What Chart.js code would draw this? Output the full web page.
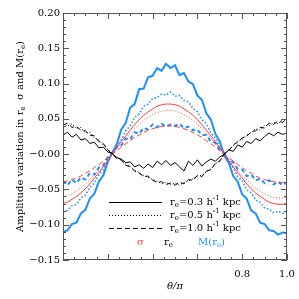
<!DOCTYPE html>
<html>
<head>
<meta charset="utf-8">
<script src="https://cdn.jsdelivr.net/npm/chart.js@4.4.1/dist/chart.umd.min.js"></script>
<style>
  html, body { margin: 0; padding: 0; background: #fff; }
  #wrap { width: 299px; height: 299px; }
</style>
</head>
<body>
<div id="wrap"><canvas id="chart" width="299" height="299"></canvas></div>
<script>
// theta/pi sample positions
const thetas = [0.00,0.02,0.04,0.06,0.08,0.10,0.12,0.14,0.16,0.18,0.20,0.22,0.24,0.26,0.28,0.30,0.32,0.34,0.36,0.38,0.40,
  0.42,0.44,0.46,0.48,0.50,0.52,0.54,0.56,0.58,0.60,0.62,0.64,0.66,0.68,0.70,0.72,0.74,0.76,0.78,0.80,
  0.82,0.84,0.86,0.88,0.90,0.92,0.94,0.96,0.98,1.00];

// r_e amplitude (black)
const reR03 = [0.027,0.031,0.024,0.028,0.020,0.022,0.015,0.017,0.009,0.010,0.003,0.001,-0.005,-0.007,-0.012,-0.011,-0.018,-0.015,-0.020,-0.014,-0.019,
  -0.010,-0.015,-0.009,-0.016,-0.012,-0.018,-0.024,-0.010,-0.016,-0.008,-0.017,-0.011,-0.007,-0.010,-0.004,0.000,0.006,0.004,0.013,0.010,
  0.018,0.015,0.022,0.019,0.025,0.030,0.026,0.031,0.028,0.030];
const reR05 = [0.044,0.040,0.043,0.036,0.038,0.030,0.031,0.023,0.020,0.013,0.007,0.001,-0.004,-0.009,-0.014,-0.017,-0.023,-0.026,-0.030,-0.033,-0.036,
  -0.038,-0.042,-0.040,-0.043,-0.041,-0.044,-0.040,-0.038,-0.035,-0.031,-0.030,-0.025,-0.021,-0.014,-0.009,-0.001,0.006,0.012,0.019,0.021,
  0.027,0.030,0.036,0.034,0.041,0.040,0.045,0.043,0.049,0.047];
const reR10 = [0.041,0.044,0.038,0.039,0.034,0.033,0.027,0.026,0.018,0.015,0.006,0.000,-0.006,-0.008,-0.016,-0.018,-0.024,-0.027,-0.032,-0.031,-0.037,
  -0.040,-0.039,-0.043,-0.041,-0.044,-0.040,-0.042,-0.036,-0.037,-0.030,-0.032,-0.024,-0.022,-0.013,-0.010,0.000,0.005,0.013,0.017,0.023,
  0.025,0.032,0.033,0.038,0.037,0.044,0.042,0.047,0.045,0.050];

// sigma amplitude (red)
const sigR03 = [-0.070,-0.068,-0.064,-0.060,-0.055,-0.049,-0.042,-0.034,-0.026,-0.018,-0.009,0.000,0.009,0.018,0.026,0.034,0.042,0.049,0.055,0.060,0.064,
  0.068,0.070,0.071,0.071,0.070,0.068,0.064,0.060,0.055,0.049,0.042,0.034,0.026,0.018,0.009,0.000,-0.009,-0.018,-0.026,-0.034,
  -0.042,-0.049,-0.055,-0.060,-0.064,-0.068,-0.070,-0.071,-0.071,-0.070];
const sigR05 = [-0.061,-0.059,-0.056,-0.052,-0.048,-0.042,-0.036,-0.030,-0.023,-0.015,-0.008,0.000,0.008,0.015,0.023,0.030,0.036,0.042,0.048,0.052,0.056,
  0.059,0.061,0.062,0.062,0.061,0.059,0.056,0.052,0.048,0.042,0.036,0.030,0.023,0.015,0.008,0.000,-0.008,-0.015,-0.023,-0.030,
  -0.036,-0.042,-0.048,-0.052,-0.056,-0.059,-0.061,-0.062,-0.062,-0.061];
const sigR10 = [-0.039,-0.038,-0.036,-0.034,-0.031,-0.027,-0.024,-0.019,-0.015,-0.010,-0.005,0.000,0.005,0.010,0.015,0.019,0.024,0.027,0.031,0.034,0.036,
  0.038,0.039,0.040,0.040,0.039,0.038,0.036,0.034,0.031,0.027,0.024,0.019,0.015,0.010,0.005,0.000,-0.005,-0.010,-0.015,-0.019,
  -0.024,-0.027,-0.031,-0.034,-0.036,-0.038,-0.039,-0.040,-0.040,-0.039];

// M(r_e) amplitude (blue)
const mR03 = [-0.110,-0.108,-0.099,-0.097,-0.084,-0.079,-0.063,-0.056,-0.039,-0.030,-0.011,0.002,0.014,0.035,0.044,0.066,0.071,0.092,0.093,0.109,0.111,
  0.122,0.118,0.128,0.122,0.126,0.112,0.115,0.103,0.099,0.083,0.077,0.058,0.049,0.029,0.018,-0.002,-0.012,-0.031,-0.039,-0.057,
  -0.063,-0.080,-0.084,-0.097,-0.099,-0.108,-0.109,-0.114,-0.111,-0.112];
const mR05 = [-0.082,-0.080,-0.073,-0.071,-0.062,-0.058,-0.047,-0.041,-0.029,-0.022,-0.008,0.001,0.012,0.020,0.033,0.040,0.052,0.057,0.068,0.071,0.079,
  0.080,0.085,0.084,0.088,0.082,0.083,0.076,0.074,0.065,0.060,0.049,0.043,0.030,0.023,0.010,0.001,-0.011,-0.019,-0.032,-0.038,
  -0.050,-0.055,-0.065,-0.068,-0.076,-0.078,-0.083,-0.081,-0.084,-0.082];
const mR10 = [-0.038,-0.044,-0.036,-0.041,-0.033,-0.036,-0.027,-0.029,-0.019,-0.016,-0.004,0.002,0.010,0.012,0.022,0.021,0.031,0.029,0.037,0.035,0.042,
  0.038,0.043,0.039,0.042,0.040,0.043,0.037,0.039,0.034,0.035,0.027,0.027,0.018,0.016,0.006,0.002,-0.010,-0.011,-0.021,-0.022,
  -0.031,-0.029,-0.037,-0.035,-0.041,-0.037,-0.043,-0.039,-0.044,-0.040];

const yTicks = [-0.15, -0.10, -0.05, 0.00, 0.05, 0.10, 0.15, 0.20];
const xLabelled = [0.8, 1.0];
const legendRows = ['0.3', '0.5', '1.0'];

const RED = '#ff3b3b';
const BLUE = '#1e8fff';
const FONT = '"DejaVu Serif", serif';

function pts(arr) {
    return thetas.map((t, i) => ({ x: t, y: arr[i] }));
}

function line(arr, color, width, dash) {
    return {
        data: pts(arr),
        borderColor: color,
        borderWidth: width,
        borderDash: dash,
        pointRadius: 0,
        tension: 0,
        fill: false
    };
}

const DOT = [1, 2];
const DASH = [5, 3];

// texte avec indices / exposants
function richWidth(ctx, parts, size) {
    let w = 0;
    parts.forEach(p => {
        ctx.font = (p.s ? size * 0.7 : size) + 'px ' + FONT;
        w += ctx.measureText(p.t).width;
    });
    return w;
}

function drawRich(ctx, parts, x, y, size, color) {
    ctx.fillStyle = color;
    ctx.textBaseline = 'middle';
    ctx.textAlign = 'left';
    parts.forEach(p => {
        ctx.font = (p.s ? size * 0.7 : size) + 'px ' + FONT;
        let dy = 0;
        if (p.s === 'sub') dy = size * 0.3;
        if (p.s === 'sup') dy = -size * 0.35;
        ctx.fillText(p.t, x, y + dy);
        x += ctx.measureText(p.t).width;
    });
}

const framePlugin = {
    id: 'frame',
    afterDatasetsDraw(chart) {
        const ctx = chart.ctx;
        const a = chart.chartArea;
        const xs = chart.scales.x;
        const ys = chart.scales.y;
        ctx.save();
        ctx.strokeStyle = '#555';
        ctx.lineWidth = 1;
        ctx.strokeRect(a.left + 0.5, a.top + 0.5, a.right - a.left - 1, a.bottom - a.top - 1);

        // ticks inward, all four sides
        ctx.beginPath();
        for (let k = -15; k <= 20; k++) {
            const py = Math.round(ys.getPixelForValue(k / 100)) + 0.5;
            const len = k % 5 === 0 ? 6 : 3;
            ctx.moveTo(a.left, py); ctx.lineTo(a.left + len, py);
            ctx.moveTo(a.right, py); ctx.lineTo(a.right - len, py);
        }
        for (let k = 0; k <= 20; k++) {
            const px = Math.round(xs.getPixelForValue(k / 20)) + 0.5;
            const len = k % 4 === 0 ? 6 : 3;
            ctx.moveTo(px, a.bottom); ctx.lineTo(px, a.bottom - len);
            ctx.moveTo(px, a.top); ctx.lineTo(px, a.top + len);
        }
        ctx.stroke();

        // legend
        const rowY = [202, 215, 228];
        const dashes = [[], DOT, DASH];
        legendRows.forEach((r, i) => {
            ctx.beginPath();
            ctx.setLineDash(dashes[i]);
            ctx.strokeStyle = '#000';
            ctx.lineWidth = 1;
            ctx.moveTo(109, rowY[i] + 0.5);
            ctx.lineTo(162, rowY[i] + 0.5);
            ctx.stroke();
            ctx.setLineDash([]);
            drawRich(ctx, [{ t: 'r' }, { t: 'e', s: 'sub' }, { t: '=' + r + ' h' }, { t: '-1', s: 'sup' }, { t: ' kpc' }],
                170, rowY[i], 10, '#000');
        });
        drawRich(ctx, [{ t: 'σ' }], 137, 242, 10, RED);
        drawRich(ctx, [{ t: 'r' }, { t: 'e', s: 'sub' }], 164, 242, 10, '#000');
        drawRich(ctx, [{ t: 'M(r' }, { t: 'e', s: 'sub' }, { t: ')' }], 198, 242, 10, BLUE);

        // axis titles
        ctx.font = 'italic 10px ' + FONT;
        ctx.fillStyle = '#000';
        ctx.textAlign = 'center';
        ctx.textBaseline = 'middle';
        ctx.fillText('θ/π', (a.left + a.right) / 2, 286);

        const title = [{ t: 'Amplitude variation in r' }, { t: 'e', s: 'sub' }, { t: '  σ and M(r' }, { t: 'e', s: 'sub' }, { t: ')' }];
        ctx.translate(20, (a.top + a.bottom) / 2);
        ctx.rotate(-Math.PI / 2);
        const w = richWidth(ctx, title, 10);
        drawRich(ctx, title, -w / 2, 0, 10, '#000');
        ctx.restore();
    }
};

new Chart(document.getElementById('chart'), {
    type: 'line',
    data: {
        datasets: [
            line(reR03, '#000', 1, []),
            line(reR05, '#000', 1, DOT),
            line(reR10, '#000', 1, DASH),
            line(sigR03, RED, 1, []),
            line(sigR05, RED, 1, DOT),
            line(sigR10, RED, 1, DASH),
            line(mR05, BLUE, 1.6, [1.5, 2]),
            line(mR10, BLUE, 2, [4, 3]),
            line(mR03, BLUE, 2, [])
        ]
    },
    options: {
        responsive: false,
        animation: false,
        layout: { padding: { top: 13, right: 12, left: 0, bottom: 0 } },
        plugins: { legend: { display: false }, tooltip: { enabled: false } },
        scales: {
            x: {
                type: 'linear',
                min: 0,
                max: 1,
                grid: { display: false, drawTicks: false },
                border: { display: false },
                afterFit: s => { s.height = 39; s.paddingLeft = 0; s.paddingRight = 0; },
                afterBuildTicks: s => { s.ticks = xLabelled.map(v => ({ value: v })); },
                ticks: {
                    padding: 8,
                    maxRotation: 0,
                    autoSkip: false,
                    color: '#000',
                    font: { family: FONT, size: 10 },
                    callback: v => v.toFixed(1)
                }
            },
            y: {
                min: -0.15,
                max: 0.20,
                grid: { display: false, drawTicks: false },
                border: { display: false },
                afterFit: s => { s.width = 63; s.paddingTop = 0; s.paddingBottom = 0; },
                afterBuildTicks: s => { s.ticks = yTicks.map(v => ({ value: v })); },
                ticks: {
                    padding: 3,
                    color: '#000',
                    font: { family: FONT, size: 10 },
                    callback: v => {
                        const r = Math.round(v * 100) / 100;
                        if (r === 0) return '−0.00';
                        return r.toFixed(2).replace('-', '−');
                    }
                }
            }
        }
    },
    plugins: [framePlugin]
});
</script>
</body>
</html>
